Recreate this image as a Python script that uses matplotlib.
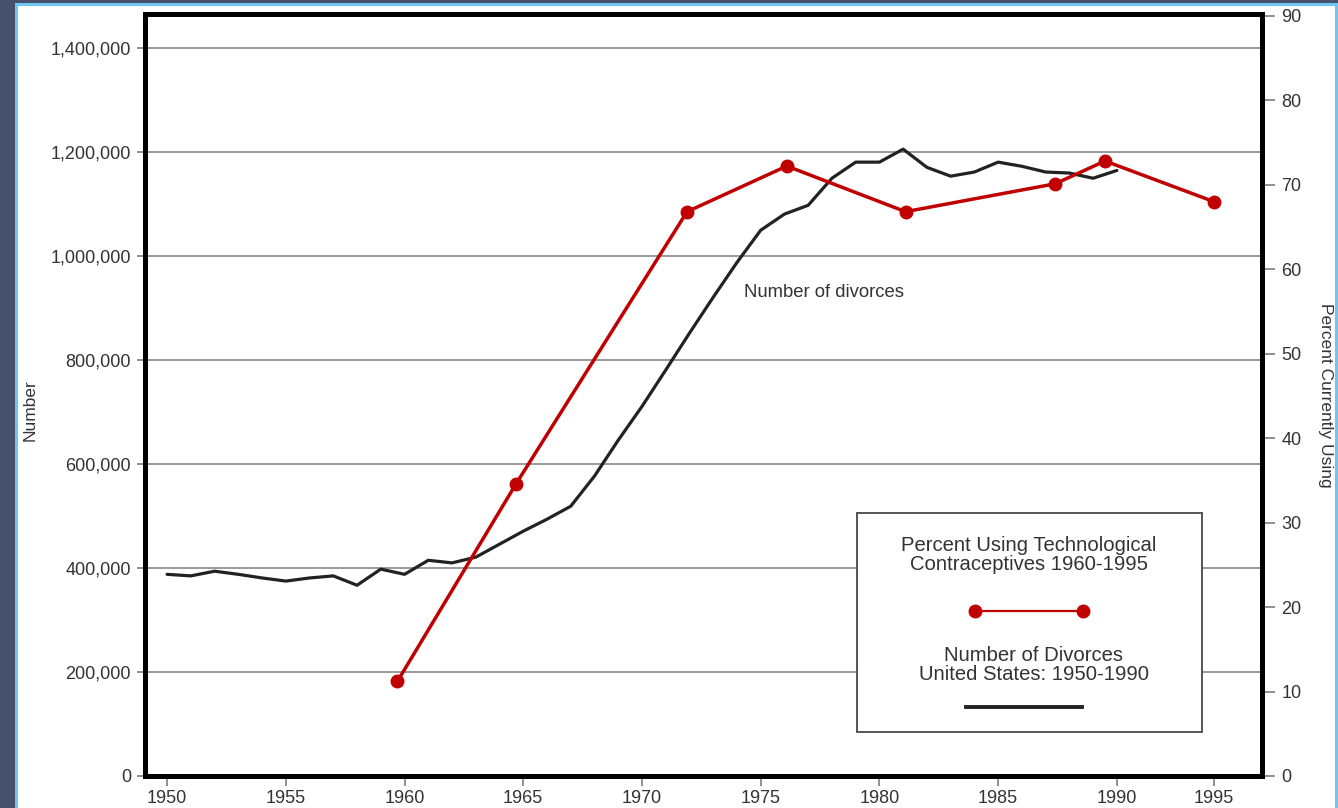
import numpy as np
import matplotlib.pyplot as plt
from matplotlib.patches import Rectangle
from matplotlib.lines import Line2D
from matplotlib.ticker import FuncFormatter

plt.rcParams['font.family'] = ['Liberation Sans', 'DejaVu Sans']

# Number of divorces, United States
years = list(range(1950, 1991))
divorces = [388000, 385000, 394000, 388000, 381000, 375000, 381000, 385000,
            367000, 398000, 388000, 415000, 410000, 421000, 446000, 471000,
            494000, 519000, 577000, 646000, 711000, 781000, 852000, 921000,
            988000, 1050000, 1081000, 1098000, 1150000, 1181000, 1181000,
            1206000, 1171000, 1154000, 1162000, 1181000, 1173000, 1162000,
            1160000, 1150000, 1165000]

# Percent using technological contraceptives
pct_years = [1959.7, 1964.7, 1971.9, 1976.1, 1981.1, 1987.4, 1989.5, 1995.0]
pct_using = [11.2, 34.6, 66.8, 72.2, 66.8, 70.1, 72.8, 68.0]

xticks = [1950, 1955, 1960, 1965, 1970, 1975, 1980, 1985, 1990, 1995]
left_ticks = [0, 200000, 400000, 600000, 800000, 1000000, 1200000, 1400000]
right_ticks = list(range(0, 91, 10))

RED = '#c00000'
TXT = '#333333'


# the original chart squeezes the last five years a bit
def fwd(x):
    x = np.asarray(x, dtype=float)
    return np.where(x <= 1990, x, 1990 + (x - 1990) * 0.815)


def inv(x):
    x = np.asarray(x, dtype=float)
    return np.where(x <= 1990, x, 1990 + (x - 1990) / 0.815)


fig = plt.figure(figsize=(13.38, 8.08), dpi=100, facecolor='#46516b')
fig.patches.append(Rectangle((15 / 1338, 0), 1323 / 1338, 805 / 808,
                             transform=fig.transFigure, facecolor='#6ec6f2',
                             edgecolor='none', zorder=-10))
fig.patches.append(Rectangle((17.5 / 1338, 0), 1317 / 1338, 802 / 808,
                             transform=fig.transFigure, facecolor='white',
                             edgecolor='none', zorder=-9))

ax = fig.add_axes([145 / 1338, 32 / 808, 1117 / 1338, 762 / 808])
ax.set_xscale('function', functions=(fwd, inv))
ax2 = ax.twinx()

ax.plot(years, divorces, color='#222222', lw=2.3, solid_joinstyle='round',
        solid_capstyle='round', zorder=3)
ax2.plot(pct_years, pct_using, color=RED, lw=2.5, marker='o', ms=9,
         zorder=3)

ax.set_xlim(1949.07, 1997.5)
ax.set_ylim(0, 1466000)
ax2.set_ylim(0, 90.2)

ax.set_xticks(xticks)
ax.set_xticklabels([str(y) for y in xticks])
ax.set_yticks(left_ticks)
ax.yaxis.set_major_formatter(FuncFormatter(lambda v, p: f'{int(v):,}'))
ax2.set_yticks(right_ticks)

ax.grid(axis='y', color='#9a9a9a', lw=1.4)
ax.set_axisbelow(True)

ax.tick_params(axis='x', length=7, width=1.3, color='#888888', pad=3,
               labelsize=13, labelcolor=TXT)
ax.tick_params(axis='y', length=6, width=1.3, color='#888888', pad=4,
               labelsize=13, labelcolor=TXT)
ax2.tick_params(axis='y', length=9, width=1.3, color='#888888', pad=5,
                labelsize=13, labelcolor=TXT)

for a in (ax, ax2):
    for s in a.spines.values():
        s.set_linewidth(3.5)
        s.set_color('black')

ax.text(1974.3, 931000, 'Number of divorces', fontsize=13.3, color=TXT,
        va='center', ha='left')

fig.text(30 / 1338, 1 - 410 / 808, 'Number', rotation=90, fontsize=12.5,
         color=TXT, ha='center', va='center')
fig.text(1325 / 1338, 1 - 395 / 808, 'Percent Currently Using', rotation=270,
         fontsize=12.5, color=TXT, ha='center', va='center')

# legend box
ax2.add_patch(Rectangle((0.6374, 0.0577), 0.3089, 0.2874, transform=ax2.transAxes,
                        facecolor='white', edgecolor='#555555', lw=1.4,
                        zorder=5))
ax2.text(0.7914, 0.2894, 'Percent Using Technological\nContraceptives 1960-1995',
         transform=ax2.transAxes, ha='center', va='center', fontsize=14.6,
         linespacing=1.0, color=TXT, zorder=6)
ax2.add_line(Line2D([0.7431, 0.8398], [0.2165, 0.2165], transform=ax2.transAxes,
                    color=RED, lw=1.6, marker='o', ms=9, zorder=6))
ax2.text(0.7958, 0.1457, 'Number of Divorces\nUnited States: 1950-1990',
         transform=ax2.transAxes, ha='center', va='center', fontsize=14.6,
         linespacing=1.0, color=TXT, zorder=6)
ax2.add_line(Line2D([0.735, 0.8389], [0.0906, 0.0906], transform=ax2.transAxes,
                    color='#222222', lw=2.8, zorder=6))

fig.savefig('out.png', dpi=100, facecolor=fig.get_facecolor())
